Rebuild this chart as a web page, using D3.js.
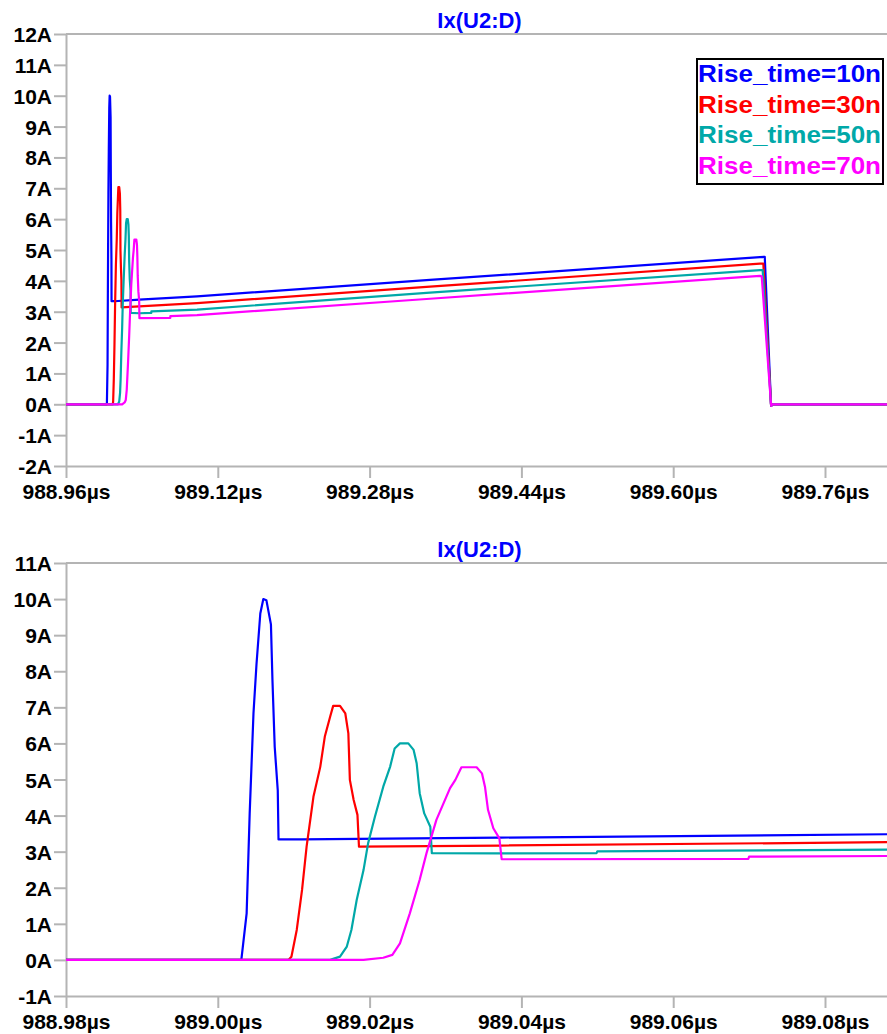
<!DOCTYPE html>
<html>
<head>
<meta charset="utf-8">
<script src="https://cdn.jsdelivr.net/npm/d3@7"></script>
<style>
  body { margin: 0; background: #fff; }
  svg { display: block; font-family: "Liberation Sans", Arial, sans-serif; font-weight: bold; }
</style>
</head>
<body>
<div id="chart"></div>
<script>
// time in µs, current in A
const blueData = [
  [988.96, 0], [989.0031, 0], [989.0038, 1.29], [989.0042, 4.06], [989.0047, 6.83],
  [989.0051, 8.2], [989.0056, 9.6], [989.0060, 10.0], [989.0064, 9.97], [989.0070, 9.3],
  [989.0072, 7.76], [989.0075, 5.9], [989.0079, 4.7], [989.0080, 3.34], [989.0110, 3.34],
  [989.0372, 3.39], [989.0981, 3.50], [989.3437, 4.03], [989.6915, 4.77], [989.6965, 4.78],
  [989.7031, 0], [989.7034, -0.05], [989.7040, 0], [989.83, 0]
];
const redData = [
  [988.96, 0], [989.0093, 0], [989.0097, 0.09], [989.0104, 0.83], [989.0111, 1.94],
  [989.0117, 3.14], [989.0126, 4.52], [989.0135, 5.35], [989.0141, 6.19], [989.0148, 6.74],
  [989.0152, 7.04], [989.0161, 7.04], [989.0168, 6.83], [989.0172, 6.28], [989.0174, 4.99],
  [989.0179, 4.43], [989.0184, 4.02], [989.0186, 3.14], [989.0372, 3.17], [989.0981, 3.28],
  [989.3437, 3.81], [989.6915, 4.56], [989.6950, 4.56], [989.7031, 0], [989.7034, -0.05],
  [989.7040, 0], [989.83, 0]
];
const cyanData = [
  [988.96, 0], [989.0148, 0], [989.0161, 0.09], [989.0170, 0.37], [989.0176, 0.83],
  [989.0183, 1.66], [989.0192, 2.49], [989.0198, 3.23], [989.0207, 3.97], [989.0218, 4.8],
  [989.0227, 5.35], [989.0233, 5.86], [989.0240, 6.0], [989.0251, 6.0], [989.0258, 5.82],
  [989.0262, 5.45], [989.0266, 4.62], [989.0272, 4.06], [989.0280, 3.69], [989.0282, 2.96],
  [989.0372, 2.95], [989.0499, 2.96], [989.0500, 3.01], [989.0981, 3.07], [989.3437, 3.62],
  [989.6915, 4.35], [989.6943, 4.35], [989.7031, 0], [989.7034, -0.05], [989.7040, 0], [989.83, 0]
];
const magentaData = [
  [988.96, 0], [989.0192, 0], [989.0218, 0.06], [989.0230, 0.14], [989.0240, 0.46],
  [989.0253, 1.29], [989.0266, 2.22], [989.0275, 2.96], [989.0288, 3.88], [989.0306, 4.76],
  [989.0313, 4.99], [989.0321, 5.34], [989.0341, 5.34], [989.0348, 5.17], [989.0352, 4.80],
  [989.0356, 4.16], [989.0363, 3.65], [989.0371, 3.37], [989.0374, 2.79], [989.0699, 2.80],
  [989.0700, 2.86], [989.0981, 2.89], [989.3437, 3.42], [989.6915, 4.16], [989.6933, 4.15],
  [989.7031, 0], [989.7034, -0.05], [989.7040, 0], [989.83, 0]
];

const seriesNames = ["Rise_time=10n", "Rise_time=30n", "Rise_time=50n", "Rise_time=70n"];
const seriesColors = ["#0000ff", "#ff0000", "#00a8a8", "#ff00ff"];
const seriesData = [blueData, redData, cyanData, magentaData];

const topXTicks = [988.96, 989.12, 989.28, 989.44, 989.60, 989.76];
const topXLabels = ["988.96µs", "989.12µs", "989.28µs", "989.44µs", "989.60µs", "989.76µs"];
const topYTicks = [-2, -1, 0, 1, 2, 3, 4, 5, 6, 7, 8, 9, 10, 11, 12];

const botXTicks = [988.98, 989.00, 989.02, 989.04, 989.06, 989.08];
const botXLabels = ["988.98µs", "989.00µs", "989.02µs", "989.04µs", "989.06µs", "989.08µs"];
const botYTicks = [-1, 0, 1, 2, 3, 4, 5, 6, 7, 8, 9, 10, 11];

const titleText = "Ix(U2:D)";

const W = 887, H = 1034;
const axisColor = "#b4b4b4";

const svg = d3.select("#chart").append("svg").attr("width", W).attr("height", H);

function drawPanel(id, cfg) {
  const x = d3.scaleLinear().domain(cfg.xDomain).range([66, W]);
  const y = d3.scaleLinear().domain(cfg.yDomain).range([cfg.bottom, cfg.top]);

  const g = svg.append("g");

  // title
  g.append("text")
    .attr("x", 479.5).attr("y", cfg.top - 6)
    .attr("text-anchor", "middle")
    .attr("fill", "#0000ff")
    .attr("font-size", 22)
    .text(titleText);

  // top border
  g.append("line")
    .attr("x1", 66).attr("x2", W)
    .attr("y1", cfg.top).attr("y2", cfg.top)
    .attr("stroke", axisColor).attr("stroke-width", 2);

  // y axis
  const yAxis = g.append("g")
    .attr("transform", "translate(66,0)")
    .call(d3.axisLeft(y).tickValues(cfg.yTicks).tickFormat(d => d + "A").tickSize(12).tickSizeOuter(0).tickPadding(2));

  // x axis
  const xAxis = g.append("g")
    .attr("transform", `translate(0,${cfg.bottom})`)
    .call(d3.axisBottom(x).tickValues(cfg.xTicks).tickFormat((d, i) => cfg.xLabels[i]).tickSize(12).tickSizeOuter(0).tickPadding(6));

  [yAxis, xAxis].forEach(a => {
    a.attr("font-family", null).attr("font-size", null);
    a.select(".domain").attr("stroke", axisColor).attr("stroke-width", 2);
    a.selectAll(".tick line").attr("stroke", axisColor).attr("stroke-width", 2);
    a.selectAll(".tick text").attr("fill", "#000").attr("font-size", 21);
  });
  yAxis.selectAll(".tick text").attr("dy", "0.36em");

  // clip
  svg.append("clipPath").attr("id", id)
    .append("rect")
    .attr("x", 66).attr("y", cfg.top - 2)
    .attr("width", W - 66).attr("height", cfg.bottom - cfg.top + 4);

  const line = d3.line().x(d => x(d[0])).y(d => y(d[1]));

  const lines = g.append("g").attr("clip-path", `url(#${id})`);
  seriesData.forEach((data, i) => {
    lines.append("path")
      .attr("d", line(data))
      .attr("fill", "none")
      .attr("stroke", seriesColors[i])
      .attr("stroke-width", 2.2)
      .attr("stroke-linejoin", "round");
  });
  return g;
}

const topPanel = drawPanel("clipTop", {
  xDomain: [988.96, 988.96 + 821 / 151.8 * 0.16],
  yDomain: [-2, 12], top: 34, bottom: 466,
  xTicks: topXTicks, xLabels: topXLabels, yTicks: topYTicks
});

drawPanel("clipBot", {
  xDomain: [988.98, 988.98 + 821 / 151.8 * 0.02],
  yDomain: [-1, 11], top: 563, bottom: 996,
  xTicks: botXTicks, xLabels: botXLabels, yTicks: botYTicks
});

// legend (top panel only)
const legend = topPanel.append("g");
legend.append("rect")
  .attr("x", 697).attr("y", 59).attr("width", 186).attr("height", 125)
  .attr("fill", "#fff").attr("stroke", "#000").attr("stroke-width", 2);
seriesNames.forEach((name, i) => {
  legend.append("text")
    .attr("x", 698).attr("y", 82 + i * 30.7)
    .attr("fill", seriesColors[i])
    .attr("font-size", 24)
    .attr("textLength", 183)
    .attr("lengthAdjust", "spacingAndGlyphs")
    .text(name);
});
</script>
</body>
</html>
